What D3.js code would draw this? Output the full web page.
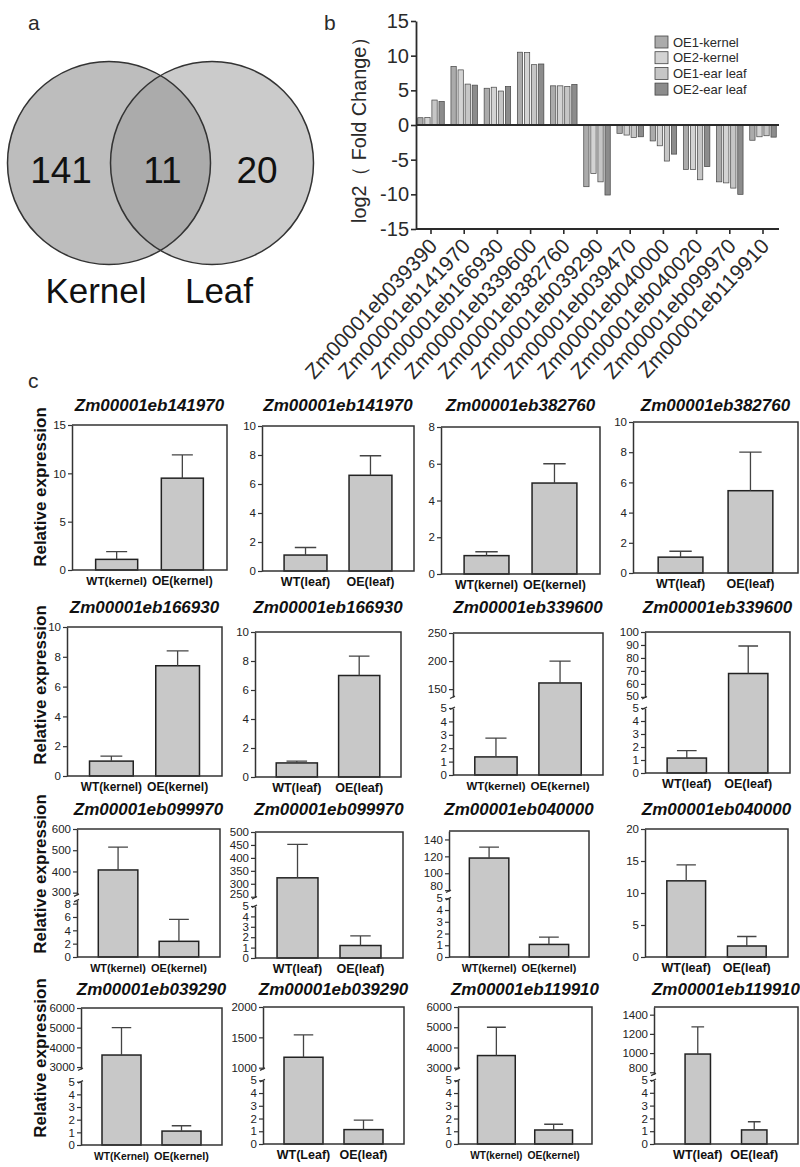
<!DOCTYPE html>
<html>
<head>
<meta charset="utf-8">
<script src="https://cdn.jsdelivr.net/npm/d3@7"></script>
<style>
  body { margin: 0; background: #fff; }
  svg { display: block; font-family: 'Liberation Sans', Arial, sans-serif; }
</style>
</head>
<body>
<div id="chart"></div>
<script>
// ---- a: venn
const vennSets = ['Kernel', 'Leaf'];
const vennCounts = [141, 11, 20];

// ---- b: log2 fold change
const fcGenes = ['Zm00001eb039390', 'Zm00001eb141970', 'Zm00001eb166930', 'Zm00001eb339600',
  'Zm00001eb382760', 'Zm00001eb039290', 'Zm00001eb039470', 'Zm00001eb040000',
  'Zm00001eb040020', 'Zm00001eb099970', 'Zm00001eb119910'];
const fcSeries = ['OE1-kernel', 'OE2-kernel', 'OE1-ear leaf', 'OE2-ear leaf'];
const fcOE1Kernel = [1.05, 8.45, 5.3, 10.5, 5.65, -8.9, -1.2, -2.3, -6.4, -8.2, -2.2];
const fcOE2Kernel = [1.1, 7.95, 5.45, 10.45, 5.65, -7.0, -1.45, -3.0, -6.4, -8.35, -1.7];
const fcOE1Leaf = [3.6, 5.9, 4.9, 8.7, 5.55, -8.2, -1.8, -5.2, -7.9, -9.1, -1.55];
const fcOE2Leaf = [3.4, 5.75, 5.55, 8.8, 5.85, -10.1, -1.7, -4.2, -6.0, -10.0, -1.75];
const fcTicks = [-15, -10, -5, 0, 5, 10, 15];

// ---- c: qRT-PCR
const qGenes = ['Zm00001eb141970', 'Zm00001eb141970', 'Zm00001eb382760', 'Zm00001eb382760',
  'Zm00001eb166930', 'Zm00001eb166930', 'Zm00001eb339600', 'Zm00001eb339600',
  'Zm00001eb099970', 'Zm00001eb099970', 'Zm00001eb040000', 'Zm00001eb040000',
  'Zm00001eb039290', 'Zm00001eb039290', 'Zm00001eb119910', 'Zm00001eb119910'];
const qGroups = [
  ['WT(kernel)', 'OE(kernel)'], ['WT(leaf)', 'OE(leaf)'], ['WT(kernel)', 'OE(kernel)'], ['WT(leaf)', 'OE(leaf)'],
  ['WT(kernel)', 'OE(kernel)'], ['WT(leaf)', 'OE(leaf)'], ['WT(kernel)', 'OE(kernel)'], ['WT(leaf)', 'OE(leaf)'],
  ['WT(kernel)', 'OE(kernel)'], ['WT(leaf)', 'OE(leaf)'], ['WT(kernel)', 'OE(kernel)'], ['WT(leaf)', 'OE(leaf)'],
  ['WT(Kernel)', 'OE(kernel)'], ['WT(Leaf)', 'OE(leaf)'], ['WT(kernel)', 'OE(kernel)'], ['WT(leaf)', 'OE(leaf)']];
const qMeans = [[1.1, 9.5], [1.1, 6.6], [1.0, 4.95], [1.05, 5.45],
  [1.0, 7.4], [0.97, 7.0], [1.35, 161], [1.15, 68],
  [407, 2.35], [323, 1.2], [118, 1.07], [11.9, 1.72],
  [3610, 1.1], [1172, 1.13], [3600, 1.1], [990, 1.1]];
const qSD = [[0.8, 2.4], [0.52, 1.35], [0.21, 1.05], [0.39, 2.55],
  [0.34, 1.0], [0.12, 1.34], [1.4, 39], [0.57, 21.2],
  [108, 3.3], [129, 0.93], [13, 0.63], [2.5, 1.48],
  [1390, 0.42], [369, 0.75], [1400, 0.45], [283, 0.64]];
const qLowMax = [15, 10, 8, 10, 10, 10, 5, 5, 8.5, 5, 5, 20, 5, 5, 5, 5];
const qHighDom = [null, null, null, null, null, null, [136, 250], [49.5, 100],
  [290, 600], [247, 500], [79, 150], null, [2900, 6000], [980, 2000], [2950, 6000], [780, 1480]];
const qLowTicks = [[0, 5, 10, 15], [0, 2, 4, 6, 8, 10], [0, 2, 4, 6, 8], [0, 2, 4, 6, 8, 10],
  [0, 2, 4, 6, 8, 10], [0, 2, 4, 6, 8, 10], [0, 1, 2, 3, 4, 5], [0, 1, 2, 3, 4, 5],
  [0, 2, 4, 6, 8], [0, 1, 2, 3, 4, 5], [0, 1, 2, 3, 4, 5], [0, 5, 10, 15, 20],
  [0, 1, 2, 3, 4, 5], [0, 1, 2, 3, 4, 5], [0, 1, 2, 3, 4, 5], [0, 1, 2, 3, 4, 5]];
const qHighTicks = [[], [], [], [], [], [], [150, 200, 250], [50, 60, 70, 80, 90, 100],
  [300, 400, 500, 600], [250, 300, 350, 400, 450, 500], [80, 100, 120, 140], [],
  [3000, 4000, 5000, 6000], [1000, 1500, 2000], [3000, 4000, 5000, 6000], [800, 1000, 1200, 1400]];

// layout of the small panels: [left, top, right, bottom], axis break pixels, bar padding
const qBox = [
  [72, 425, 227, 570], [262, 426, 414, 571], [441, 427, 600, 574], [633, 422, 798, 573],
  [67, 627, 222, 776], [255, 632, 401, 777], [453, 633, 603, 775], [645, 632, 790, 773],
  [77, 829, 220, 957], [255, 832, 403, 958], [449, 831, 589, 957], [645, 829, 788, 957],
  [81, 1008, 222, 1145], [263, 1007, 404, 1144], [458, 1007, 592, 1144], [654, 1007, 798, 1144]];
const qSplit = [null, null, null, null, null, null, [697, 708], [697.5, 708],
  [894.8, 900.3], [897.5, 906], [891, 898.3], null, [1069, 1081.7], [1068.9, 1080.3], [1068.7, 1080.3], [1074.2, 1080]];
const qPad = [0.36, 0.34, 0.34, 0.36, 0.34, 0.34, 0.34, 0.36, 0.35, 0.35, 0.34, 0.36, 0.35, 0.35, 0.34, 0.55];
const titleY = [411, 613, 815, 995];
const ylabY = [487, 685, 874, 1058];

const W = 800, H = 1167;
const ink = '#2a2a2a';

const svg = d3.select('#chart').append('svg')
  .attr('width', W)
  .attr('height', H);

// 面板字母
[['a', 28, 30], ['b', 324, 30], ['c', 28, 388]].forEach(([t, x, y]) => {
  svg.append('text').attr('x', x).attr('y', y).attr('font-size', 21).attr('fill', ink).text(t);
});

// ================= a: venn =================
const vr = 101.5;
const vc = [{ x: 109, y: 163 }, { x: 212, y: 163 }];
svg.append('defs').append('clipPath').attr('id', 'clipL')
  .append('circle').attr('cx', vc[0].x).attr('cy', vc[0].y).attr('r', vr);

svg.append('g').selectAll('circle')
  .data(vc)
  .enter()
  .append('circle')
  .attr('cx', d => d.x).attr('cy', d => d.y).attr('r', vr)
  .attr('fill', (d, i) => i === 0 ? '#bdbdbd' : '#cbcbcb');

svg.append('circle')
  .attr('cx', vc[1].x).attr('cy', vc[1].y).attr('r', vr)
  .attr('clip-path', 'url(#clipL)')
  .attr('fill', '#ababab');

svg.append('g').selectAll('circle')
  .data(vc)
  .enter()
  .append('circle')
  .attr('cx', d => d.x).attr('cy', d => d.y).attr('r', vr)
  .attr('fill', 'none').attr('stroke', '#333').attr('stroke-width', 1.5);

const countX = [61, 162.5, 257];
svg.append('g').selectAll('text')
  .data(vennCounts)
  .enter()
  .append('text')
  .attr('x', (d, i) => countX[i]).attr('y', 183)
  .attr('text-anchor', 'middle').attr('font-size', 37).attr('fill', '#111')
  .text(d => d);

const setX = [96, 219];
svg.append('g').selectAll('text')
  .data(vennSets)
  .enter()
  .append('text')
  .attr('x', (d, i) => setX[i]).attr('y', 303)
  .attr('text-anchor', 'middle').attr('font-size', 35).attr('fill', '#111')
  .text(d => d);

// ================= b: fold change =================
const fcValues = [fcOE1Kernel, fcOE2Kernel, fcOE1Leaf, fcOE2Leaf];
const fcColors = ['#ababab', '#d3d3d3', '#c6c6c6', '#8c8c8c'];

const bx = d3.scaleBand().domain(fcGenes).range([414.4, 779.6]).paddingInner(0.18).paddingOuter(0.09);
const bs = d3.scaleBand().domain(fcSeries).range([0, bx.bandwidth()]).paddingInner(0.25).paddingOuter(0.05);
const by = d3.scaleLinear().domain([-15, 15]).range([229, 21]);

const bBars = [];
fcGenes.forEach((g, gi) => {
  fcSeries.forEach((s, si) => bBars.push({ gene: g, series: s, si, v: fcValues[si][gi] }));
});

svg.append('g').selectAll('rect')
  .data(bBars)
  .enter()
  .append('rect')
  .attr('x', d => bx(d.gene) + bs(d.series))
  .attr('width', bs.bandwidth())
  .attr('y', d => by(Math.max(0, d.v)))
  .attr('height', d => Math.abs(by(d.v) - by(0)))
  .attr('fill', d => fcColors[d.si])
  .attr('stroke', '#444')
  .attr('stroke-width', 0.7);

// 零线
svg.append('line')
  .attr('x1', 416).attr('x2', 779)
  .attr('y1', by(0)).attr('y2', by(0))
  .attr('stroke', ink).attr('stroke-width', 1.8);

const bYAxis = svg.append('g')
  .attr('transform', 'translate(416,0)')
  .call(d3.axisLeft(by).tickValues(fcTicks).tickSize(5).tickSizeOuter(0).tickFormat(d => String(d)));
bYAxis.selectAll('text').attr('font-size', 20).attr('fill', ink).attr('x', -7);

const bXAxis = svg.append('g')
  .attr('transform', 'translate(0,229)')
  .call(d3.axisBottom(bx).tickSize(5).tickSizeOuter(0));
bXAxis.selectAll('text')
  .attr('font-size', 21).attr('fill', ink)
  .attr('text-anchor', 'end')
  .attr('x', 0).attr('y', 0).attr('dy', '0.35em')
  .attr('transform', 'translate(2,13) rotate(-47)');
bXAxis.select('.domain').attr('d', 'M416,0H779');

[bYAxis, bXAxis].forEach(a => {
  a.select('.domain').attr('stroke', ink).attr('stroke-width', 1.8);
  a.selectAll('.tick line').attr('stroke', ink).attr('stroke-width', 1.6);
  a.attr('font-family', null);
});

svg.append('text')
  .attr('transform', 'translate(366,125) rotate(-90)')
  .attr('text-anchor', 'middle')
  .attr('font-size', 20).attr('fill', ink)
  .attr('textLength', 196).attr('lengthAdjust', 'spacingAndGlyphs')
  .text('log2（ Fold Change）');

const legend = svg.append('g').selectAll('g')
  .data(fcSeries)
  .enter()
  .append('g')
  .attr('transform', (d, i) => `translate(655,${42 + i * 15.7})`);
legend.append('rect')
  .attr('x', 0).attr('y', -6).attr('width', 13).attr('height', 12)
  .attr('fill', (d, i) => fcColors[i]).attr('stroke', '#444').attr('stroke-width', 0.8);
legend.append('text')
  .attr('x', 18).attr('y', 0).attr('dy', '0.35em')
  .attr('font-size', 13).attr('fill', ink)
  .text(d => d);

// ================= c: relative expression =================
qGenes.forEach((gene, i) => {
  const [l, t, r, b] = qBox[i];
  const hi = qHighDom[i];
  const split = qSplit[i];
  const row = Math.floor(i / 4);

  const yLo = d3.scaleLinear().domain([0, qLowMax[i]]).range([b, hi ? split[1] : t]);
  const yHi = hi ? d3.scaleLinear().domain(hi).range([split[0], t]) : null;
  const yv = v => (hi && v > qLowMax[i]) ? yHi(v) : yLo(v);
  const x = d3.scaleBand().domain(qGroups[i]).range([l, r]).padding(qPad[i]);

  const g = svg.append('g');

  // 标题
  g.append('text')
    .attr('x', (l + r) / 2).attr('y', titleY[row])
    .attr('text-anchor', 'middle')
    .attr('font-size', 17).attr('font-weight', 'bold').attr('font-style', 'italic')
    .attr('fill', '#111')
    .text(gene);

  const bars = qGroups[i].map((grp, k) => ({ grp, m: qMeans[i][k], sd: qSD[i][k] }));

  g.selectAll('rect')
    .data(bars)
    .enter()
    .append('rect')
    .attr('x', d => x(d.grp))
    .attr('width', x.bandwidth())
    .attr('y', d => yv(d.m))
    .attr('height', d => b - yv(d.m))
    .attr('fill', '#c8c8c8')
    .attr('stroke', '#222')
    .attr('stroke-width', 1.5);

  // 误差线
  const cap = x.bandwidth() * 0.25;
  g.selectAll('path.err')
    .data(bars)
    .enter()
    .append('path')
    .attr('class', 'err')
    .attr('d', d => {
      const cx = x(d.grp) + x.bandwidth() / 2;
      const y0 = yv(d.m), y1 = yv(d.m + d.sd);
      return `M${cx},${y0}V${y1}M${cx - cap},${y1}H${cx + cap}`;
    })
    .attr('fill', 'none').attr('stroke', '#444').attr('stroke-width', 1.3);

  // 边框
  g.append('path')
    .attr('d', `M${l},${t}H${r}V${b}H${l}`)
    .attr('fill', 'none').attr('stroke', '#333').attr('stroke-width', 1.5);

  const styleAxis = a => {
    a.select('.domain').attr('stroke', '#333').attr('stroke-width', 1.5);
    a.selectAll('.tick line').attr('stroke', '#333').attr('stroke-width', 1.2);
    a.selectAll('text').attr('font-size', 11.5).attr('fill', '#222').attr('x', -6);
    a.attr('font-family', null);
  };

  const axLo = g.append('g').attr('transform', `translate(${l},0)`)
    .call(d3.axisLeft(yLo).tickValues(qLowTicks[i]).tickSize(4).tickSizeOuter(0).tickFormat(d => String(d)));
  styleAxis(axLo);

  if (hi) {
    const axHi = g.append('g').attr('transform', `translate(${l},0)`)
      .call(d3.axisLeft(yHi).tickValues(qHighTicks[i]).tickSize(4).tickSizeOuter(0).tickFormat(d => String(d)));
    styleAxis(axHi);
    // 断轴处：上段最低刻度文字上移一点，避免和下段最高刻度文字重叠
    const lowTop = qLowTicks[i][qLowTicks[i].length - 1];
    const hiLow = qHighTicks[i][0];
    const gap = yLo(lowTop) - yHi(hiLow);
    if (gap < 12) {
      axHi.selectAll('text').filter(d => d === hiLow).attr('y', -(12 - gap));
    }
    // 断轴标记
    g.append('path')
      .attr('d', `M${l - 3},${split[0] + 1.5}L${l + 2},${split[0] - 1}M${l - 3},${split[1] + 1.5}L${l + 2},${split[1] - 1}`)
      .attr('stroke', '#333').attr('stroke-width', 1.3);
  }

  // x 标签：放不下时缩小字号
  const avail = x.step() - 5;
  g.selectAll('text.xl')
    .data(qGroups[i])
    .enter()
    .append('text')
    .attr('class', 'xl')
    .attr('x', d => x(d) + x.bandwidth() / 2)
    .attr('y', b + 15)
    .attr('text-anchor', 'middle')
    .attr('font-size', 12.5).attr('font-weight', 'bold').attr('fill', '#111')
    .text(d => d)
    .each(function () {
      const w = this.getComputedTextLength();
      if (w > avail) {
        d3.select(this).attr('font-size', (12.5 * avail / w).toFixed(2));
      }
    });
});

ylabY.forEach(cy => {
  svg.append('text')
    .attr('transform', `translate(46,${cy}) rotate(-90)`)
    .attr('text-anchor', 'middle')
    .attr('font-size', 17).attr('font-weight', 'bold').attr('fill', '#111')
    .text('Relative expression');
});
</script>
</body>
</html>
